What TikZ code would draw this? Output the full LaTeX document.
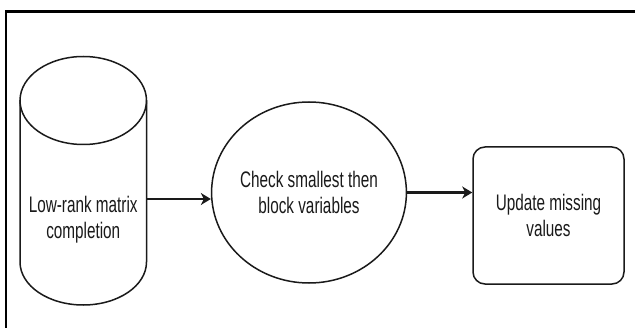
\documentclass[tikz,border=0pt]{standalone}
\usepackage{fontspec}
\setmainfont{Liberation Sans}[FakeStretch=0.68]
\usetikzlibrary{arrows.meta,shapes.geometric}
\definecolor{ink}{HTML}{1A1A1A}
\tikzset{
  shapeline/.style={draw=ink, line width=1.5pt},
  boxtext/.style={text=ink, font=\fontsize{22.5}{26}\selectfont, align=center, inner sep=0pt},
  flow/.style={draw=ink, line width=2.2pt, -{Stealth[length=10pt, width=12pt, inset=3pt]}},
  frame/.style={draw=black, line width=2.6pt}
}
\begin{document}
\begin{tikzpicture}[x=1pt, y=1pt]
  \useasboundingbox (0,0) rectangle (635,327);
  \clip (0,0) rectangle (635,327);
  \fill[white] (0,0) rectangle (635,327);

  % outer frame
  \draw[frame] (6,-30) rectangle (660,315.5);

  % cylinder (data store)
  \draw[shapeline] (20,226.5) -- (20,65)
    arc[start angle=180, end angle=360, x radius=63.25, y radius=43]
    -- (146.5,226.5);
  \draw[shapeline] (83.25,226.5) ellipse [x radius=63.25, y radius=44];
  \node[boxtext] (store) at (83.25,107) {Low-rank matrix\\completion};
  \coordinate (storeR) at (146.5,128);

  % decision ellipse
  \node[shapeline, ellipse, minimum width=152pt, minimum height=181pt,
        inner sep=0pt, boxtext] (check) at (309,134.5)
        {Check smallest then\\block variables};

  % update box
  \node[shapeline, rectangle, rounded corners=12pt, minimum width=151pt,
        minimum height=137pt, inner sep=0pt, boxtext] (update) at (548.5,111.5)
        {Update missing\\values};

  % connectors
  \draw[flow] (storeR) -- (storeR -| check.west);
  \draw[flow] (check.east) -- (check.east -| update.west);
\end{tikzpicture}
\end{document}
